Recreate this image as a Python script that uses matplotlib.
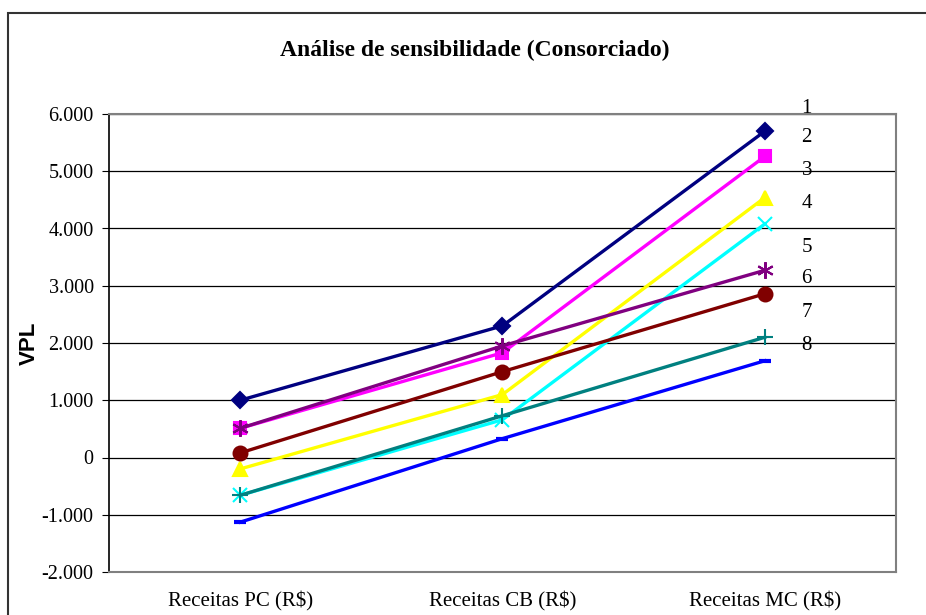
import matplotlib.pyplot as plt
from matplotlib.patches import Rectangle

# Dados
categorias = ['Receitas PC (R$)', 'Receitas CB (R$)', 'Receitas MC (R$)']
serie1 = [1000, 2300, 5700]
serie2 = [510, 1830, 5260]
serie3 = [-200, 1100, 4540]
serie4 = [-660, 660, 4080]
serie5 = [510, 1950, 3270]
serie6 = [80, 1500, 2860]
serie7 = [-660, 730, 2100]
serie8 = [-1130, 330, 1690]
rotulos = ['1', '2', '3', '4', '5', '6', '7', '8']
rotulos_y = [6100, 5590, 5010, 4440, 3670, 3130, 2530, 1960]

series = [serie1, serie2, serie3, serie4, serie5, serie6, serie7, serie8]
cores = ['#000080', '#FF00FF', '#FFFF00', '#00FFFF',
         '#800080', '#800000', '#008080', '#0000FF']
marcadores = ['D', 's', '^', 'x', (6, 2, 0), 'o', '+', '_']
tamanhos = [8, 9, 10, 10, 12, 10, 11, 8]

fig = plt.figure(figsize=(9.26, 6.15), dpi=100)
fig.patches.append(Rectangle((8 / 926, -0.1), 1.0, 1.1 - 13 / 615,
                             transform=fig.transFigure, fill=False,
                             edgecolor='#333333', linewidth=1.5))

ax = fig.add_axes([109 / 926, 43 / 615, (896 - 109) / 926, (572 - 114) / 615])

x = range(len(categorias))
for s, c, m, t in zip(series, cores, marcadores, tamanhos):
    mew = 3 if m == '_' else 1.5
    ax.plot(x, s, color=c, linewidth=2.4, marker=m, markersize=t,
            markeredgecolor=c, markerfacecolor=c, markeredgewidth=mew)

for r, y in zip(rotulos, rotulos_y):
    ax.text(2.14, y, r, fontsize=15, family='Liberation Serif',
            ha='left', va='center')

ax.set_xlim(-0.5, 2.5)
ax.set_ylim(-2000, 6000)
ax.set_yticks(range(-2000, 6001, 1000))
ax.set_yticklabels(['-2.000', '-1.000', '0', '1.000', '2.000', '3.000',
                    '4.000', '5.000', '6.000'],
                   family='Liberation Serif', fontsize=14.5)
ax.set_xticks(list(x))
ax.set_xticklabels(categorias, family='Liberation Serif', fontsize=15)
ax.tick_params(axis='x', length=0, pad=14)
ax.tick_params(axis='y', length=5, direction='out', color='black', pad=6)
ax.grid(axis='y', color='black', linewidth=0.9)
ax.set_axisbelow(True)

for lado in ['top', 'right', 'bottom']:
    ax.spines[lado].set_color('#808080')
    ax.spines[lado].set_linewidth(1.5)
ax.spines['left'].set_color('black')
ax.spines['left'].set_linewidth(1.2)

ax.set_ylabel('VPL', family='Liberation Sans', fontweight='bold',
              fontsize=16)
ax.yaxis.set_label_coords(-0.088, 0.5)
fig.text(475 / 926, 1 - 50 / 615, 'Análise de sensibilidade (Consorciado)',
         family='Liberation Serif', fontweight='bold', fontsize=17,
         ha='center', va='center')

fig.savefig('out.png', dpi=100)
